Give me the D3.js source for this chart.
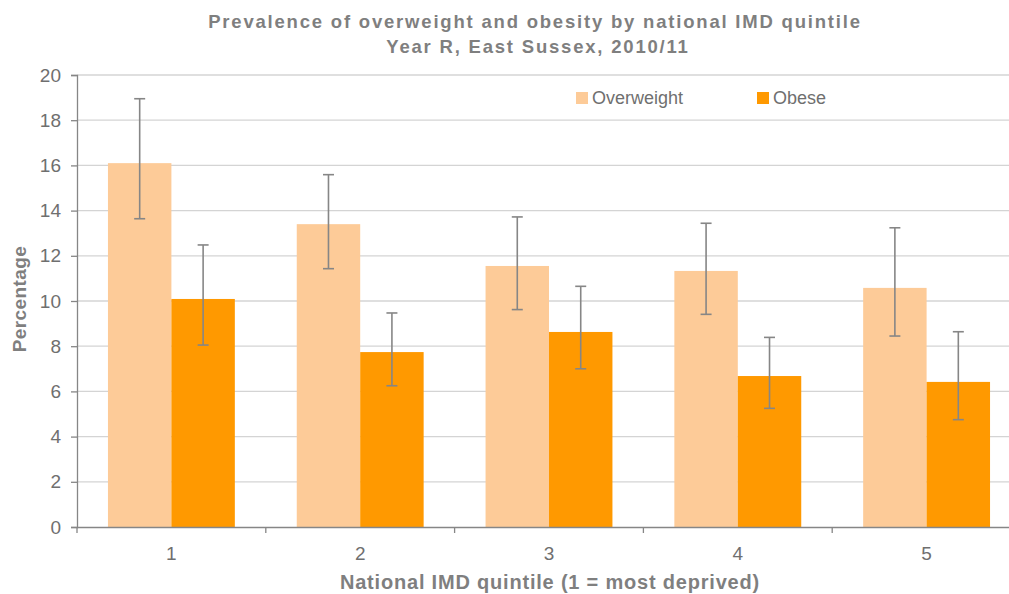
<!DOCTYPE html>
<html><head><meta charset="utf-8">
<script src="https://cdn.jsdelivr.net/npm/d3@7"></script>
<style>body{margin:0;background:#fff}svg{display:block}text{font-family:"Liberation Sans",Arial,sans-serif}</style>
</head><body><svg id="c" width="1009" height="594"></svg>
<script>
const categories = ["1","2","3","4","5"];
const seriesNames = ["Overweight","Obese"];
const overweight = [16.1, 13.4, 11.55, 11.33, 10.58];
const overweightLow = [13.64, 11.43, 9.62, 9.41, 8.45];
const overweightHigh = [18.95, 15.59, 13.72, 13.44, 13.24];
const obese = [10.09, 7.74, 8.63, 6.68, 6.42];
const obeseLow = [8.05, 6.25, 7.0, 5.25, 4.75];
const obeseHigh = [12.48, 9.47, 10.65, 8.39, 8.64];
const yTicks = [0,2,4,6,8,10,12,14,16,18,20];
const colors = ["#FDCB98","#FF9900"];

const svg = d3.select("#c");
const m = {l:77, r:1021, t:75, b:527};
const x = d3.scaleBand().domain(categories).range([m.l, m.r]).paddingInner(0).paddingOuter(0);
const xs = d3.scaleBand().domain(seriesNames).range([0, x.bandwidth()]).paddingInner(0).paddingOuter(0.488);
const y = d3.scaleLinear().domain([0,20]).range([m.b, m.t]);

// gridlines
svg.append("g").selectAll("line").data(yTicks.filter(d=>d>0)).join("line")
  .attr("x1", m.l).attr("x2", m.r).attr("y1", d=>y(d)).attr("y2", d=>y(d))
  .attr("stroke","#d4d4d4").attr("stroke-width",1.3);

const data = categories.map((c,i)=>({c, vals:[
  {s:"Overweight", v:overweight[i], lo:overweightLow[i], hi:overweightHigh[i]},
  {s:"Obese", v:obese[i], lo:obeseLow[i], hi:obeseHigh[i]}]}));

const g = svg.append("g").selectAll("g").data(data).join("g")
  .attr("transform", d=>`translate(${x(d.c)},0)`);
g.selectAll("rect").data(d=>d.vals).join("rect")
  .attr("x", d=>xs(d.s)).attr("width", xs.bandwidth())
  .attr("y", d=>y(d.v)).attr("height", d=>y(0)-y(d.v))
  .attr("fill", (d,i)=>colors[i]);

// error bars
const eb = g.selectAll("g.eb").data(d=>d.vals).join("g").attr("class","eb")
  .attr("transform", d=>`translate(${xs(d.s)+xs.bandwidth()/2},0)`)
  .attr("stroke","#868686").attr("stroke-width",1.6);
eb.append("line").attr("x1",0).attr("x2",0).attr("y1",d=>y(d.lo)).attr("y2",d=>y(d.hi));
eb.append("line").attr("x1",-5.5).attr("x2",5.5).attr("y1",d=>y(d.lo)).attr("y2",d=>y(d.lo));
eb.append("line").attr("x1",-5.5).attr("x2",5.5).attr("y1",d=>y(d.hi)).attr("y2",d=>y(d.hi));

// axes
const yAxis = svg.append("g").attr("transform",`translate(${m.l},0)`)
  .call(d3.axisLeft(y).tickValues(yTicks).tickSize(6).tickPadding(10).tickFormat(d3.format("d")));
const xAxis = svg.append("g").attr("transform",`translate(0,${m.b})`)
  .call(d3.axisBottom(x).tickSize(0).tickPadding(20));
// x ticks at band boundaries
svg.append("g").selectAll("line").data(categories.concat(["end"])).join("line")
  .attr("x1", (d,i)=> i<categories.length ? x(d) : m.r).attr("x2",(d,i)=> i<categories.length ? x(d) : m.r)
  .attr("y1", m.b).attr("y2", m.b+6).attr("stroke","#868686").attr("stroke-width",1.3);
[yAxis,xAxis].forEach(a=>{
  a.select(".domain").attr("stroke","#868686").attr("stroke-width",1.3);
  a.selectAll(".tick line").attr("stroke","#868686").attr("stroke-width",1.3);
  a.selectAll("text").attr("fill","#6f6f6f").style("font-size","19px");
});
xAxis.select(".domain").attr("d",`M${m.l},0.5H${m.r}`);

// titles
const tStyle = s => s.attr("text-anchor","middle").attr("fill","#7f7f7f")
  .style("font-weight","bold");
svg.append("text").attr("x",535).attr("y",28).call(tStyle)
  .style("font-size","18.5px").style("letter-spacing","1.8px")
  .text("Prevalence of overweight and obesity by national IMD quintile");
svg.append("text").attr("x",538).attr("y",53).call(tStyle)
  .style("font-size","18.5px").style("letter-spacing","1.8px")
  .text("Year R, East Sussex, 2010/11");
svg.append("text").attr("x",550).attr("y",589).call(tStyle)
  .style("font-size","20px").style("letter-spacing","0.8px")
  .text("National IMD quintile (1 = most deprived)");
svg.append("text").attr("transform","translate(26,299) rotate(-90)").call(tStyle)
  .style("font-size","19px").style("letter-spacing","0.4px")
  .text("Percentage");

// legend
const legX = [576, 757];
const lg = svg.append("g").selectAll("g").data(seriesNames).join("g")
  .attr("transform",(d,i)=>`translate(${legX[i]},92)`);
lg.append("rect").attr("width",12).attr("height",12).attr("fill",(d,i)=>colors[i]);
lg.append("text").attr("x",16).attr("y",12).attr("fill","#6f6f6f").style("font-size","18px").text(d=>d);
</script></body></html>
